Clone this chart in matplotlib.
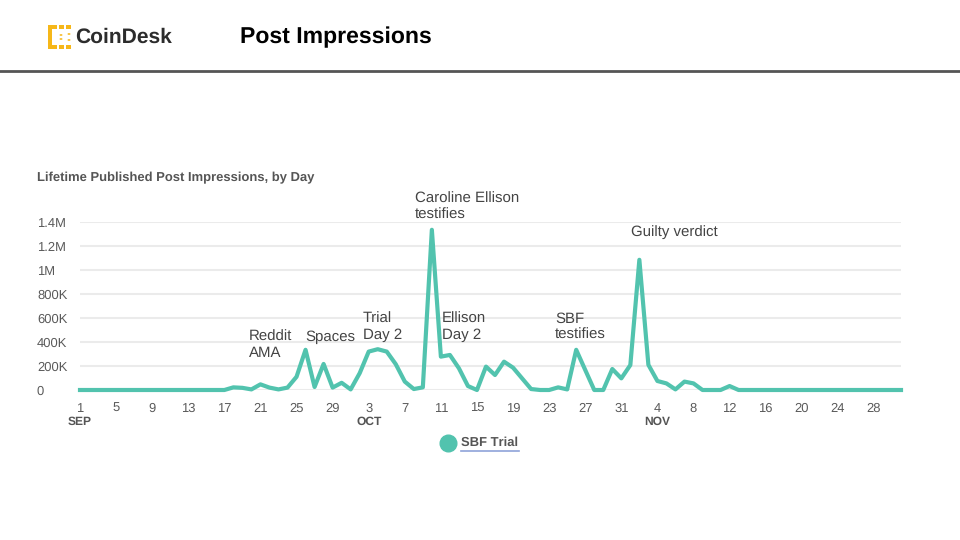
import matplotlib
matplotlib.use("Agg")
import matplotlib.pyplot as plt
import pandas as pd
from matplotlib.lines import Line2D
from matplotlib.patches import Rectangle, Circle

plt.rcParams['font.family'] = ['Liberation Sans', 'DejaVu Sans']
plt.rcParams['text.hinting'] = 'no_hinting'
plt.rcParams['text.hinting_factor'] = 1

# daily post impressions (thousands), Sep 1 2023 .. Dec 1 2023
sep = [0] * 17 + [22, 18, 5, 47, 20, 5, 20, 110, 335, 25, 217, 20, 60]
octo = [5, 140, 320, 340, 320, 215, 70, 8, 22, 1335, 278, 292, 181, 33, 0,
        195, 125, 236, 186, 97, 8, 0, 0, 22, 5, 335, 167, 0, 0, 175, 97]
nov = [208, 1085, 210, 75, 55, 5, 70, 55, 0, 0, 0, 33] + [0] * 18
dec = [0]
impressions = [v * 1000 for v in sep + octo + nov + dec]
dates = pd.date_range('2023-09-01', periods=len(impressions), freq='D')

y_ticks = [0, 200e3, 400e3, 600e3, 800e3, 1e6, 1.2e6, 1.4e6]
y_labels = ['0', '200K', '400K', '600K', '800K', '1M', '1.2M', '1.4M']

events = ['Reddit\nAMA', 'Spaces', 'Trial\nDay 2', 'Caroline Ellison\ntestifies',
          'Ellison\nDay 2', 'SBF\ntestifies', 'Guilty verdict']
# label top-left corners in pixels
event_pos = [(249, 330), (305, 330), (363, 312), (415, 192),
             (442, 312), (555, 312), (631, 225)]

teal = '#52C3AE'
W, H = 960, 540
fig = plt.figure(figsize=(9.6, 5.4), dpi=100)

def px(x, y):
    return x / W, 1 - y / H

# header
icon = '#F6B719'
for (x0, y0, w, h) in [(48, 25, 4, 24), (48, 25, 9, 4), (48, 45, 9, 4),
                       (59, 25, 5, 4), (59, 45, 5, 4), (66, 25, 5, 4), (66, 45, 5, 4)]:
    fig.add_artist(Rectangle(px(x0, y0 + h), w / W, h / H, color=icon, lw=0))
for (cx, cy) in [(61, 35), (61, 39), (69, 34), (69, 40)]:
    fig.add_artist(Circle(px(cx, cy), 1.5 / W, color=icon, lw=0))
fig.text(*px(75, 37), 'CoinDesk', fontsize=15, fontweight='bold', color='#2c2c2c', va='center')
fig.text(*px(240, 37), 'Post Impressions', fontsize=16.5, fontweight='bold', color='black', va='center')
fig.add_artist(Line2D([0, 1], [1 - 71 / H] * 2, color='#555555', lw=2))

fig.text(*px(37, 178), 'Lifetime Published Post Impressions, by Day', fontsize=9.5,
         fontweight='bold', color='#555555', va='center')

ax = fig.add_axes([80 / W, 1 - 390 / H, 821 / W, 168 / H])
x = list(range(len(impressions)))
ax.plot(x, impressions, color=teal, lw=3, solid_joinstyle='round', clip_on=False, zorder=3)
ax.set_xlim(0, len(impressions) - 1)
ax.set_ylim(0, 1.4e6)
ax.set_yticks(y_ticks)
ax.set_yticklabels(y_labels)
ax.yaxis.grid(True, color='#ebebeb', lw=1.5)
ax.set_axisbelow(True)
for s in ax.spines.values():
    s.set_visible(False)

ticks = list(range(0, len(impressions), 4))
ax.set_xticks(ticks)
ax.set_xticklabels([str(dates[i].day) for i in ticks])
ax.tick_params(length=0, labelsize=9, labelcolor='#5a5a5a')
ax.tick_params(axis='x', pad=9)
ax.tick_params(axis='y', pad=31)
for lab in ax.get_yticklabels():
    lab.set_horizontalalignment('left')

seen = set()
for i in ticks:
    m = dates[i].month
    if m not in seen:
        seen.add(m)
        ax.text(i, -0.19, dates[i].strftime('%b').upper(), transform=ax.get_xaxis_transform(),
                ha='center', va='center', fontsize=8.5, fontweight='bold', color='#555555')

for label, (lx, ly) in zip(events, event_pos):
    fig.text(*px(lx, ly), label, fontsize=10.5, color='#444444', va='top', ha='left',
             linespacing=1.22)

# legend
fig.add_artist(Line2D([448 / W], [1 - 443 / H], marker='o', markersize=12, color=teal, lw=0))
fig.text(*px(461, 443), 'SBF Trial', fontsize=9.5, fontweight='bold', color='#555555', va='center')
fig.add_artist(Line2D([461 / W, 519 / W], [1 - 451 / H] * 2, color='#8fa3d9', lw=1.2))

fig.savefig('out.png', dpi=100)
